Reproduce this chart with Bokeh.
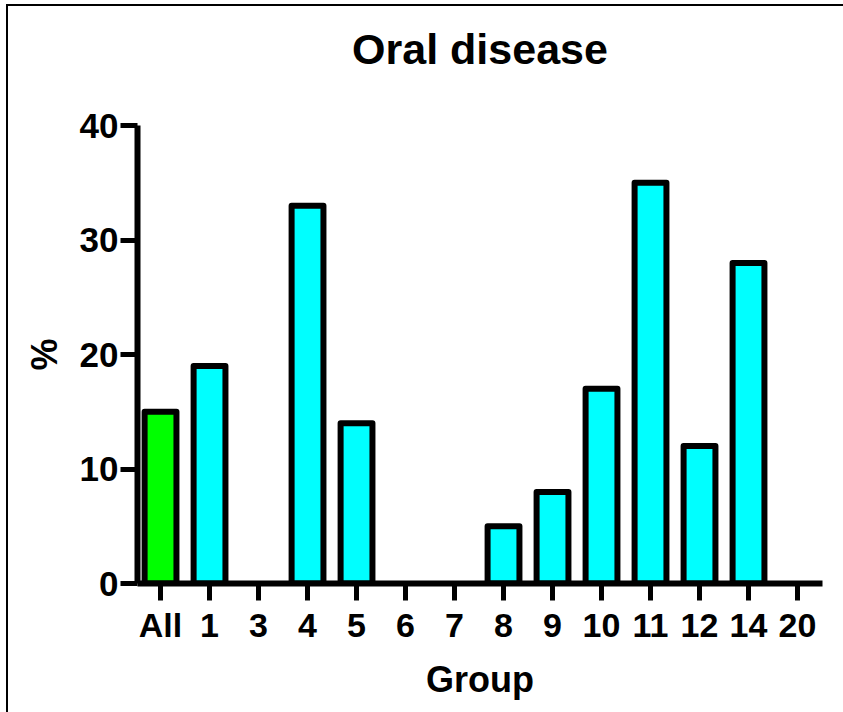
from bokeh.plotting import figure
from bokeh.models import Range1d, FixedTicker, ColumnDataSource, LinearAxis, GlobalInlineStyleSheet
from bokeh.embed import file_html
from bokeh.resources import INLINE

# Data
groups = ["All", "1", "3", "4", "5", "6", "7", "8", "9", "10", "11", "12", "14", "20"]
values = [15, 19, 0, 33, 14, 0, 0, 5, 8, 17, 35, 12, 28, 0]
y_ticks = [0, 10, 20, 30, 40]
title_text = "Oral disease"

idx = list(range(len(groups)))
fill = ["#00FF00" if g == "All" else "#00FFFF" for g in groups]
line_alpha = [1.0 if v > 0 else 0.0 for v in values]

src = ColumnDataSource(dict(x=idx, top=values, color=fill, la=line_alpha))

FONT = "Liberation Sans"

p = figure(width=835, height=704,
           x_range=Range1d(-0.47, 13.51), y_range=Range1d(0, 40),
           output_backend="svg", toolbar_location=None,
           min_border_left=129, min_border_right=21,
           min_border_top=119, min_border_bottom=127)

p.vbar(x="x", top="top", bottom=0, width=0.65, source=src,
       fill_color="color", line_color="black", line_width=6,
       line_alpha="la", line_join="round")

xaxis = p.below[0]
yaxis = p.left[0]

# invisible spacer between the title and the plot frame (white tick, no labels)
spacer = LinearAxis(ticker=FixedTicker(ticks=[idx[0]]), axis_line_color=None,
                    major_tick_line_color="white", major_tick_line_width=1,
                    minor_tick_line_color=None,
                    major_label_text_color=None, major_label_text_font_size="0px",
                    major_tick_out=48, major_tick_in=0, minor_tick_out=0,
                    major_label_standoff=0, axis_label_standoff=0)
p.add_layout(spacer, "above")

p.title.text = title_text
p.title.align = "center"
p.title.vertical_align = "bottom"
p.title.text_font = FONT
p.title.text_font_size = "43px"
p.title.text_font_style = "bold"
p.title.text_color = "black"
p.title.standoff = 10

p.outline_line_color = None
p.xgrid.grid_line_color = None
p.ygrid.grid_line_color = None
p.background_fill_color = "white"
p.border_fill_color = "white"

for ax in (xaxis, yaxis):
    ax.axis_line_width = 6
    ax.axis_line_color = "black"
    ax.major_tick_line_width = 5
    ax.major_tick_line_color = "black"
    ax.major_tick_in = 0
    ax.major_tick_out = 17
    ax.minor_tick_line_color = None
    ax.major_label_text_font = FONT
    ax.major_label_text_font_style = "bold"
    ax.major_label_text_color = "black"
    ax.axis_label_text_font = FONT
    ax.axis_label_text_font_style = "bold"
    ax.axis_label_text_font_size = "36px"
    ax.axis_label_text_color = "black"

xaxis.ticker = FixedTicker(ticks=idx)
xaxis.major_label_overrides = {i: g for i, g in enumerate(groups)}
xaxis.major_label_text_font_size = "34px"
xaxis.major_label_standoff = 5
xaxis.axis_label = "Group"
xaxis.axis_label_standoff = 12

yaxis.ticker = FixedTicker(ticks=y_ticks)
yaxis.major_label_text_font_size = "35px"
yaxis.major_label_standoff = 2
yaxis.axis_label = "%"
yaxis.axis_label_standoff = 12

# page frame lines (top and left) like the reference picture
p.stylesheets = [GlobalInlineStyleSheet(css=(
    "html, body { overflow: hidden !important; background: white; }"
    "html { padding: 4px 0 0 6px !important; }"
    "body { border-top: 2px solid black !important; border-left: 2px solid black !important;"
    " border-right: none !important; border-bottom: none !important; }"
))]

open("out.html", "w").write(file_html(p, INLINE))
